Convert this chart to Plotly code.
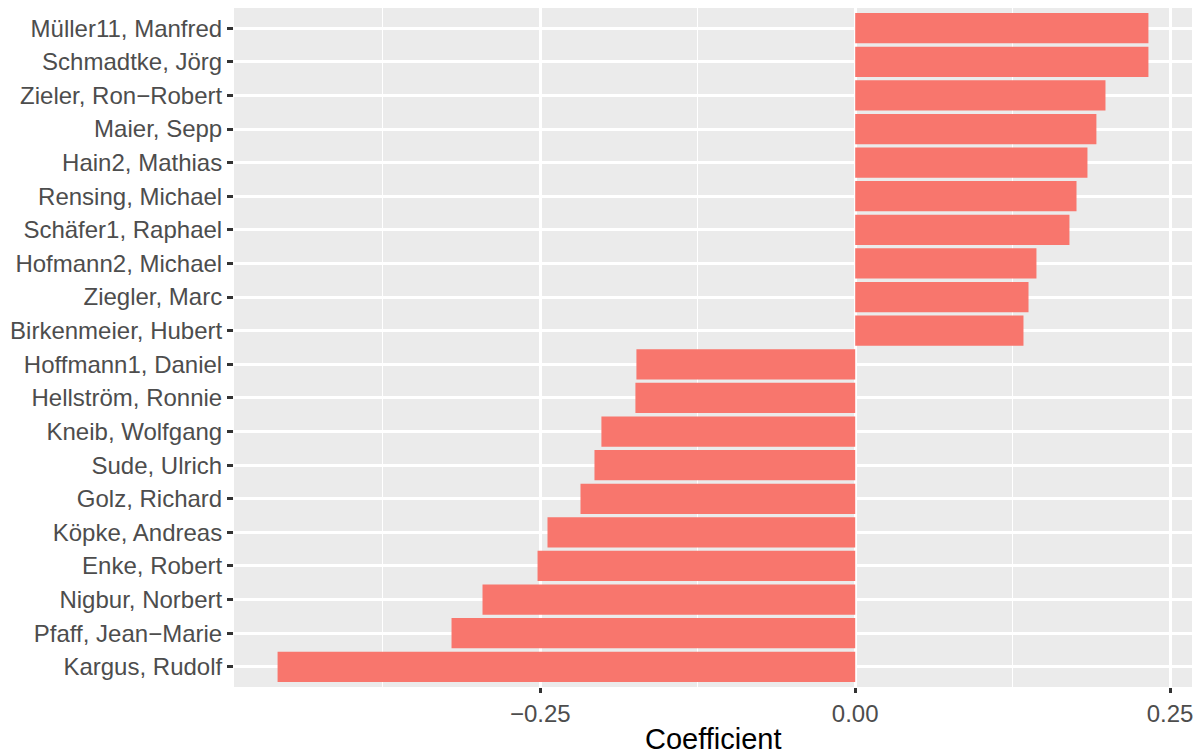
import plotly.graph_objects as go

# Categories listed from top to bottom as displayed
names = [
    "Müller11, Manfred", "Schmadtke, Jörg", "Zieler, Ron\u2212Robert", "Maier, Sepp",
    "Hain2, Mathias", "Rensing, Michael", "Schäfer1, Raphael", "Hofmann2, Michael",
    "Ziegler, Marc", "Birkenmeier, Hubert", "Hoffmann1, Daniel", "Hellström, Ronnie",
    "Kneib, Wolfgang", "Sude, Ulrich", "Golz, Richard", "Köpke, Andreas",
    "Enke, Robert", "Nigbur, Norbert", "Pfaff, Jean\u2212Marie", "Kargus, Rudolf",
]
coefficients = [
    0.2328, 0.2328, 0.1987, 0.1915,
    0.1844, 0.1757, 0.1701, 0.1439,
    0.1376, 0.1336, -0.1737, -0.1745,
    -0.2015, -0.2070, -0.2181, -0.2443,
    -0.2522, -0.2959, -0.3205, -0.4586,
]
x_tickvals = [-0.25, 0.0, 0.25]
x_ticktext = ["\u22120.25", "0.00", "0.25"]
x_minor = [-0.375, -0.125, 0.125]

# bottom-to-top order for plotly
cat_order = names[::-1]

fig = go.Figure(go.Bar(
    x=coefficients,
    y=names,
    orientation="h",
    marker=dict(color="#F8766D", line=dict(width=0)),
    width=0.9,
    hoverinfo="x+y",
))

fig.update_layout(
    width=1202, height=753,
    margin=dict(l=234, r=10, t=8, b=66),
    paper_bgcolor="white",
    plot_bgcolor="#EBEBEB",
    font=dict(family="Liberation Sans, Arial, sans-serif", size=24, color="#4D4D4D"),
    showlegend=False,
    bargap=0.1,
)

fig.update_xaxes(
    range=[-0.4932, 0.2674],
    tickvals=x_tickvals,
    ticktext=x_ticktext,
    ticks="outside", ticklen=5, tickwidth=2.5, tickcolor="#333333",
    showgrid=True, gridcolor="white", gridwidth=2.7,
    minor=dict(tickvals=x_minor, showgrid=True, gridcolor="white", gridwidth=1.35, ticks=""),
    zeroline=False, showline=False,
    automargin=False,
    tickfont=dict(size=24, color="#4D4D4D"),
)

fig.update_yaxes(
    type="category",
    categoryorder="array", categoryarray=cat_order,
    range=[-0.6, 19.6],
    ticks="outside", ticklen=6, tickwidth=2.5, tickcolor="#333333",
    showgrid=True, gridcolor="white", gridwidth=2.7,
    zeroline=False, showline=False,
    automargin=False,
    tickfont=dict(size=24, color="#4D4D4D"),
)

# x-axis title placed just below tick labels, as in the reference
fig.add_annotation(
    text="Coefficient", xref="paper", yref="paper",
    x=0.5, y=0, yshift=-34, xanchor="center", yanchor="top",
    showarrow=False, font=dict(size=29, color="black"),
)

fig.write_html(
    "out.html",
    config={"displayModeBar": False},
    post_script="document.body.style.margin='0';document.body.style.padding='0';",
)
